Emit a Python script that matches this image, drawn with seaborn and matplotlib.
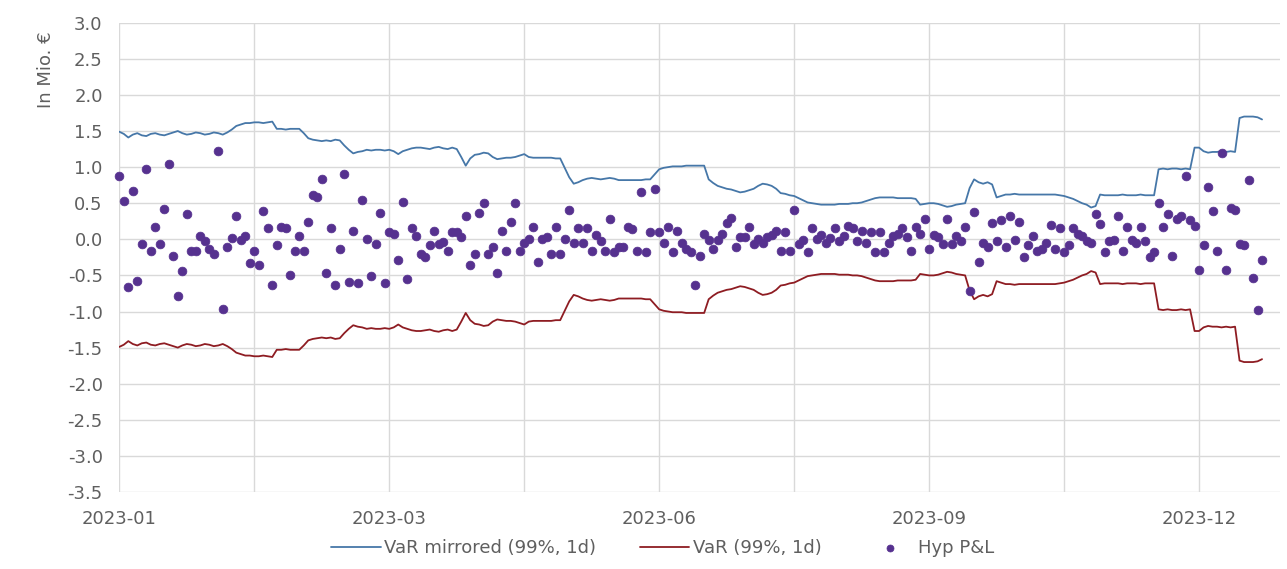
import matplotlib.pyplot as plt
import numpy as np
import pandas as pd
import seaborn as sns

START_DATE = "2023-01-02"

# VaR (99%, 1d) magnitude per trading day, in Mio. EUR (shown mirrored above zero)
var_mirrored = [
    1.49, 1.46, 1.41, 1.45, 1.47, 1.44, 1.43, 1.46, 1.47, 1.45,
    1.44, 1.46, 1.48, 1.50, 1.47, 1.45, 1.46, 1.48, 1.47, 1.45,
    1.46, 1.48, 1.47, 1.45, 1.48, 1.52, 1.57, 1.59, 1.61, 1.61,
    1.62, 1.62, 1.61, 1.62, 1.63, 1.53, 1.53, 1.52, 1.53, 1.53,
    1.53, 1.47, 1.40, 1.38, 1.37, 1.36, 1.37, 1.36, 1.38, 1.37,
    1.30, 1.24, 1.19, 1.21, 1.22, 1.24, 1.23, 1.24, 1.24, 1.23,
    1.24, 1.22, 1.18, 1.22, 1.24, 1.26, 1.27, 1.27, 1.26, 1.25,
    1.27, 1.28, 1.26, 1.25, 1.27, 1.25, 1.14, 1.02, 1.12, 1.17,
    1.18, 1.20, 1.19, 1.14, 1.11, 1.12, 1.13, 1.13, 1.14, 1.16,
    1.18, 1.14, 1.13, 1.13, 1.13, 1.13, 1.13, 1.12, 1.12, 0.99,
    0.86, 0.77, 0.79, 0.82, 0.84, 0.85, 0.84, 0.83, 0.84, 0.85,
    0.84, 0.82, 0.82, 0.82, 0.82, 0.82, 0.82, 0.83, 0.83, 0.90,
    0.97, 0.99, 1.00, 1.01, 1.01, 1.01, 1.02, 1.02, 1.02, 1.02,
    1.02, 0.83, 0.78, 0.74, 0.72, 0.70, 0.69, 0.67, 0.65, 0.66,
    0.68, 0.70, 0.74, 0.77, 0.76, 0.74, 0.70, 0.64, 0.63, 0.61,
    0.60, 0.57, 0.54, 0.51, 0.50, 0.49, 0.48, 0.48, 0.48, 0.48,
    0.49, 0.49, 0.49, 0.50, 0.50, 0.51, 0.53, 0.55, 0.57, 0.58,
    0.58, 0.58, 0.58, 0.57, 0.57, 0.57, 0.57, 0.56, 0.48, 0.49,
    0.50, 0.50, 0.49, 0.47, 0.45, 0.46, 0.48, 0.49, 0.50, 0.71,
    0.83, 0.79, 0.77, 0.79, 0.76, 0.58, 0.60, 0.62, 0.62, 0.63,
    0.62, 0.62, 0.62, 0.62, 0.62, 0.62, 0.62, 0.62, 0.62, 0.61,
    0.60, 0.58, 0.56, 0.53, 0.50, 0.48, 0.44, 0.46, 0.62, 0.61,
    0.61, 0.61, 0.61, 0.62, 0.61, 0.61, 0.61, 0.62, 0.61, 0.61,
    0.61, 0.97, 0.98, 0.97, 0.98, 0.98, 0.97, 0.98, 0.97, 1.27,
    1.27, 1.22, 1.20, 1.21, 1.21, 1.22, 1.21, 1.22, 1.21, 1.68,
    1.70, 1.70, 1.70, 1.69, 1.66,
]

# hypothetical P&L per trading day, in Mio. EUR
hyp_pnl = [
    0.88, 0.53, -0.66, 0.67, -0.58, -0.06, 0.97, -0.16, 0.17, -0.06,
    0.42, 1.04, -0.23, -0.78, -0.44, 0.35, -0.16, -0.16, 0.04, -0.03,
    -0.13, -0.20, 1.23, -0.97, -0.10, 0.02, 0.32, -0.01, 0.05, -0.33,
    -0.16, -0.36, 0.39, 0.15, -0.63, -0.08, 0.17, 0.15, -0.50, -0.16,
    0.05, -0.16, 0.24, 0.61, 0.59, 0.84, -0.46, 0.15, -0.63, -0.13,
    0.90, -0.59, 0.12, -0.61, 0.54, 0.00, -0.51, -0.06, 0.37, -0.61,
    0.10, 0.07, -0.29, 0.52,
    -0.55, 0.15, 0.05, -0.20, -0.25, -0.08, 0.12, -0.06, -0.04, -0.16,
    0.10, 0.10, 0.03, 0.32, -0.35, -0.20, 0.37, 0.50, -0.20, -0.10,
    -0.46, 0.12, -0.16, 0.24, 0.50, -0.16, -0.05, 0.00, 0.17, -0.32,
    0.00, 0.03, -0.20, 0.17, -0.20, 0.00, 0.40, -0.05, 0.15, -0.05,
    0.15, -0.16, 0.06, -0.03, -0.16, 0.28, -0.18, -0.10, -0.10, 0.17,
    0.14, -0.16, 0.65, -0.18, 0.10, 0.69, 0.10, -0.05, 0.17, -0.18,
    0.12, -0.05, -0.13, -0.18, -0.63,
    -0.23, 0.08, -0.01, -0.13, -0.01, 0.08, 0.22, 0.30, -0.10, 0.03,
    0.03, 0.17, -0.06, 0.00, -0.05, 0.03, 0.06, 0.11, -0.16, 0.10,
    -0.16, 0.40, -0.07, -0.01, -0.18, 0.15, 0.01, 0.06, -0.05, 0.02,
    0.15, -0.03, 0.05, 0.19, 0.15, -0.03, 0.12, -0.05, 0.10, -0.18,
    0.10, -0.18, -0.05, 0.05, 0.08, 0.15, 0.03, -0.16, 0.17, 0.08,
    0.28, -0.13, 0.06, 0.03, -0.06, 0.28, -0.06, 0.04, -0.03, 0.17,
    -0.72, 0.38, -0.31, -0.05, -0.10,
    0.22, -0.03, 0.27, -0.10, 0.32, -0.01, 0.24, -0.25, -0.08, 0.04,
    -0.16, -0.13, -0.05, 0.20, -0.13, 0.15, -0.18, -0.08, 0.15, 0.08,
    0.04, -0.03, -0.05, 0.35, 0.21, -0.18, -0.03, -0.01, 0.32, -0.16,
    0.17, -0.01, -0.05, 0.17, -0.03, -0.24, -0.18, 0.50, 0.17, 0.35,
    -0.23, 0.28, 0.32, 0.87, 0.27, 0.18, -0.42, -0.08, 0.73, 0.39,
    -0.16, 1.20, -0.42, 0.43, 0.41, -0.06, -0.08, 0.82, -0.54, -0.98,
    -0.29,
]

BLUE = "#4677a8"
RED = "#8e1c22"
PURPLE = "#56318f"
TEXT = "#5f5f5f"
GRID = "#d9d9d9"


def main():
    n = min(len(var_mirrored), len(hyp_pnl))
    df = pd.DataFrame({
        "day": np.arange(n),
        "date": pd.bdate_range(START_DATE, periods=n),
        "var_mirrored": var_mirrored[:n],
        "hyp_pnl": hyp_pnl[:n],
    })
    df["var"] = -df["var_mirrored"]

    sns.set_theme(style="whitegrid")
    plt.rcParams["font.family"] = ["DejaVu Sans"]
    plt.rcParams["axes.unicode_minus"] = False

    fig = plt.figure(figsize=(12.87, 5.69), dpi=100)
    ax = fig.add_axes([0.0927, 0.1353, 0.9019, 0.8248])

    sns.lineplot(data=df, x="day", y="var_mirrored", color=BLUE, lw=1.3,
                 label="VaR mirrored (99%, 1d)", ax=ax)
    sns.lineplot(data=df, x="day", y="var", color=RED, lw=1.3,
                 label="VaR (99%, 1d)", ax=ax)
    sns.scatterplot(data=df, x="day", y="hyp_pnl", color=PURPLE, s=40,
                    edgecolor=PURPLE, linewidth=0.5, label="Hyp P&L",
                    zorder=3, clip_on=False, ax=ax)

    ax.set_xlim(0, 258)
    ax.set_ylim(-3.5, 3.0)

    grid_days = list(range(0, 258, 30))
    ax.set_xticks(grid_days)
    ax.set_xticklabels([
        df["date"].iloc[d].strftime("%Y-%m") if d % 60 == 0 and d < n else ""
        for d in grid_days
    ])
    yticks = np.arange(-3.5, 3.01, 0.5)
    ax.set_yticks(yticks)
    ax.set_yticklabels([f"{t:.1f}" for t in yticks])

    ax.grid(True, color=GRID, lw=1.0)
    for s in ax.spines.values():
        s.set_visible(False)
    ax.tick_params(axis="both", length=0, labelsize=13, colors=TEXT)
    ax.tick_params(axis="y", pad=12)
    ax.tick_params(axis="x", pad=13)

    ax.set_xlabel("")
    ax.set_ylabel("In Mio. €", fontsize=13, color=TEXT)
    ax.yaxis.set_label_coords(-0.055, 0.90)

    handles, labels = ax.get_legend_handles_labels()
    ax.get_legend().remove()
    fig.legend(handles, labels, loc="center", bbox_to_anchor=(0.515, 0.037),
               ncol=3, frameon=False, fontsize=13, labelcolor=TEXT,
               handlelength=2.75, handletextpad=0.2, columnspacing=2.4,
               markerscale=0.8)

    fig.savefig("out.png", dpi=100)


if __name__ == "__main__":
    main()
